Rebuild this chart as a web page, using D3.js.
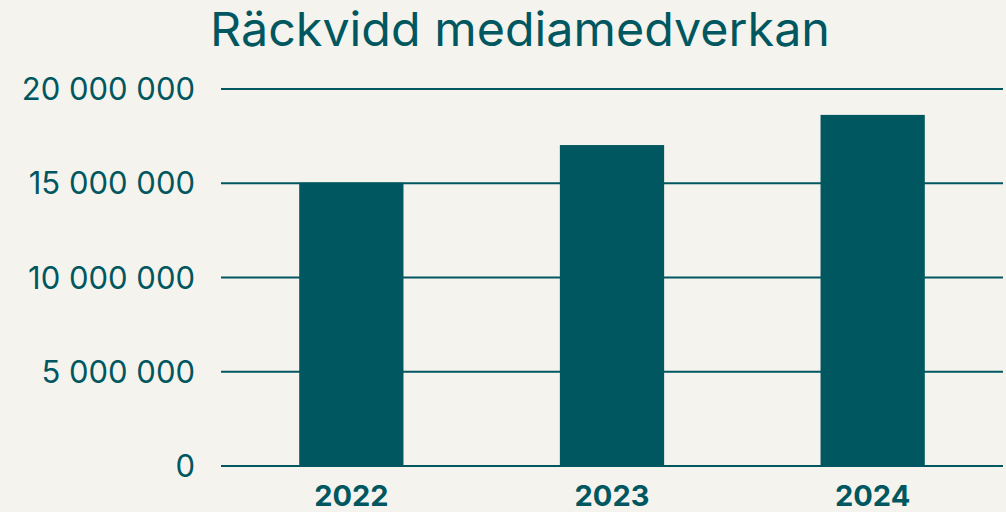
<!DOCTYPE html>
<html>
<head>
<meta charset="utf-8">
<script src="https://cdn.jsdelivr.net/npm/d3@7"></script>
<style>
  body { margin: 0; background: #f4f3ee; }
  svg { display: block; }
</style>
</head>
<body>
<div id="chart"></div>
<script>
var years = ["2022", "2023", "2024"];
var reach = [15000000, 17000000, 18600000];
var yTicks = [0, 5000000, 10000000, 15000000, 20000000];
var title = "Räckvidd mediamedverkan";

var width = 1006, height = 512;
var teal = "#00575f";

var svg = d3.select("#chart")
            .append("svg")
            .attr("width", width)
            .attr("height", height)
            .style("background", "#f4f3ee");

var x = d3.scaleBand()
          .domain(years)
          .range([221, 1003])
          .paddingInner(0.6)
          .paddingOuter(0.3);

var y = d3.scaleLinear()
          .domain([0, 20000000])
          .range([465.5, 88.5]);

// spaces as thousands separator
var fmt = function(d){
    return d3.format(",")(d).replace(/,/g, " ");
};

// title
svg.append("text")
    .attr("x", 520)
    .attr("y", 46)
    .attr("text-anchor", "middle")
    .attr("font-family", "Inter, 'Open Sans', sans-serif")
    .attr("font-size", 47)
    .attr("fill", teal)
    .attr("textLength", 620)
    .attr("lengthAdjust", "spacingAndGlyphs")
    .text(title);

// grid lines
var yAxis = d3.axisLeft(y)
              .tickValues(yTicks)
              .tickSize(-(1003 - 221))
              .tickPadding(26)
              .tickFormat(fmt);

var gy = svg.append("g")
            .attr("transform", "translate(221,0)")
            .call(yAxis);
gy.select(".domain").remove();
gy.selectAll(".tick line")
    .attr("stroke", teal)
    .attr("stroke-width", 2);
gy.selectAll(".tick text")
    .attr("fill", teal)
    .attr("font-family", "Inter, 'Open Sans', sans-serif")
    .attr("font-size", 31)
    .attr("dy", "0.36em");

// bars
svg.selectAll("rect.bar")
    .data(years)
    .enter()
    .append("rect")
    .attr("class", "bar")
    .attr("x", function(d){ return x(d); })
    .attr("y", function(d, i){ return y(reach[i]); })
    .attr("width", x.bandwidth())
    .attr("height", function(d, i){ return y(0) - y(reach[i]); })
    .attr("fill", teal);

// x labels
var xAxis = d3.axisBottom(x).tickSize(0).tickPadding(20);
var gx = svg.append("g")
            .attr("transform", "translate(0," + y(0) + ")")
            .call(xAxis);
gx.select(".domain").remove();
gx.selectAll(".tick text")
    .attr("fill", teal)
    .attr("font-family", "Inter, 'Open Sans', sans-serif")
    .attr("font-weight", "bold")
    .attr("font-size", 29);
</script>
</body>
</html>
